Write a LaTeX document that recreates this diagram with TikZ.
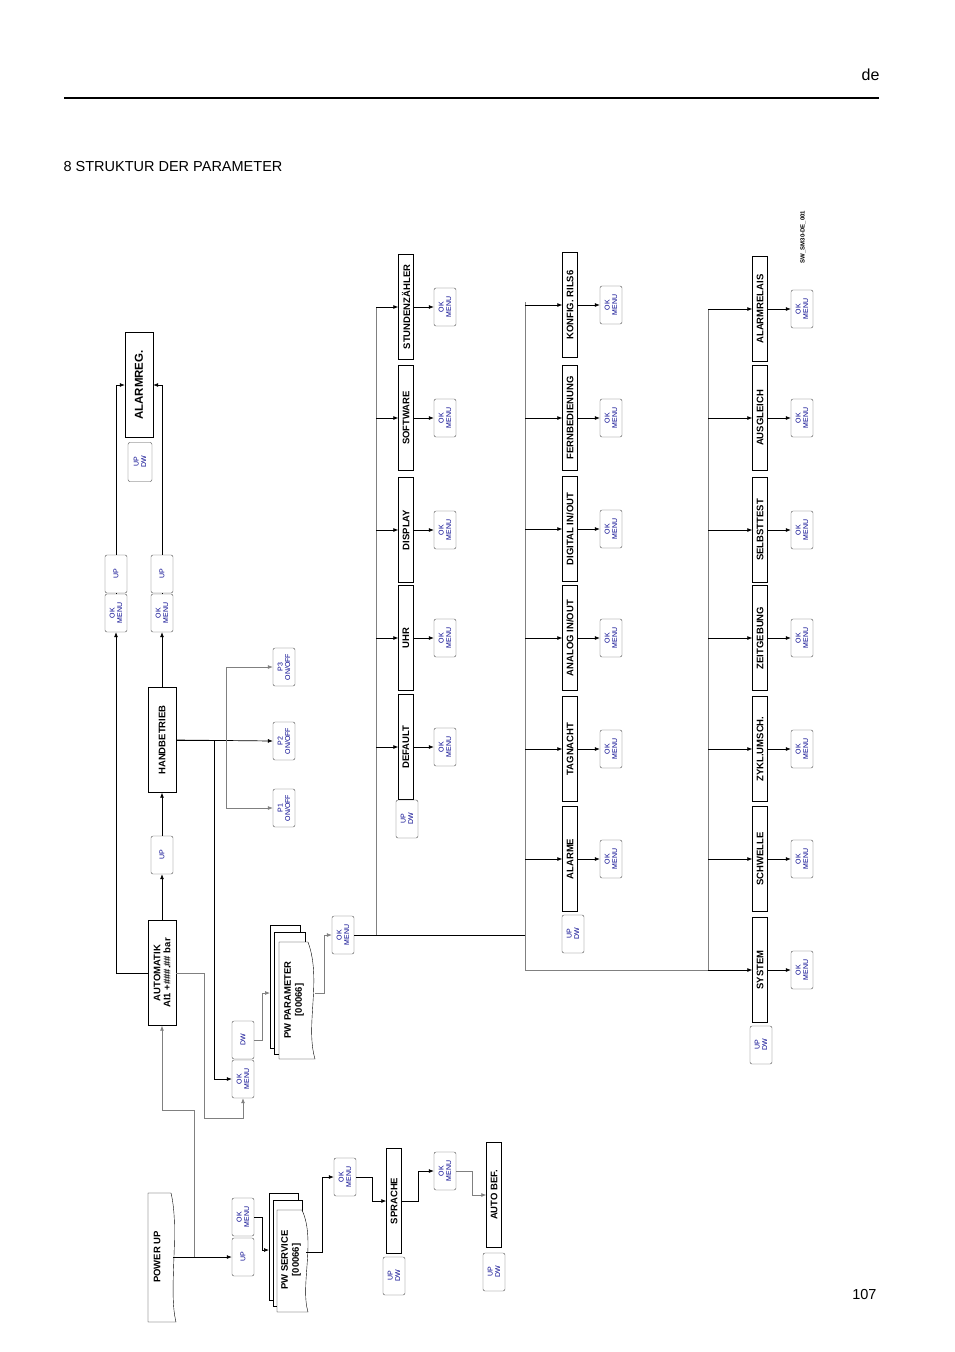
\documentclass[tikz,border=0pt]{standalone}
\usepackage{fontspec}
\setmainfont{Liberation Sans}
\usetikzlibrary{positioning, arrows.meta}

\tikzset{
  menubox/.style={draw, rotate=90, minimum width=105, minimum height=15, inner sep=1pt,
    font=\fontsize{9.5}{10}\selectfont\bfseries},
  bigbox/.style={menubox, minimum height=28, align=center},
  keybox/.style={draw=gray!60!black, rounded corners=2pt, rotate=90, minimum width=38,
    minimum height=22, inner sep=1pt, align=center, text=blue!55!black,
    font=\fontsize{7}{7.5}\selectfont},
  doc/.style={draw, fill=white},
  wire/.style={line width=0.7pt},
  gwire/.style={line width=0.7pt, gray},
}

\begin{document}
\begin{tikzpicture}[x=1pt, y=-1pt, >={Latex[length=5pt,width=4pt]}]
        \useasboundingbox (0,0) rectangle (954,1352);
        % page header
        \node[anchor=east, font=\fontsize{16}{16}\selectfont] (lang) at (883,75) {de};
        \draw[line width=2.5pt] (64,98) -- (879,98);
        \node[anchor=west, font=\fontsize{14.5}{14.5}\selectfont] (title) at (60,167) {8 STRUKTUR DER PARAMETER};
        \node[anchor=east, font=\fontsize{14.5}{14.5}\selectfont] (page) at (880,1294) {107};
        \node[rotate=90, font=\fontsize{6}{6}\selectfont\bfseries] (ref) at (803,237) {SW\_SM30-DE\_001};

        % top left block
        \node[bigbox, font=\fontsize{11.5}{12}\selectfont\bfseries] (alarmreg) at (139,385) {ALARMREG.};
        \node[keybox, minimum width=39, minimum height=24] (ar-k) at (140,462) {UP\\DW};
        \node[bigbox] (auto) at (162,973) {AUTOMATIK\\AI1 +\#\#\#.\#\# bar};
        \node[bigbox] (hand) at (162,740) {HANDBETRIEB};
        \node[keybox] (auto-up) at (162,855) {UP};
        \node[keybox] (a-ok) at (116,613) {OK\\MENU};
        \node[keybox] (a-up) at (116,574) {UP};
        \node[keybox] (h-ok) at (162,613) {OK\\MENU};
        \node[keybox] (h-up) at (162,574) {UP};
        \node[keybox] (p3) at (284,667) {P3\\ON/OFF};
        \node[keybox] (p2) at (284,741) {P2\\ON/OFF};
        \node[keybox] (p1) at (284,808) {P1\\ON/OFF};
        \node[keybox] (pa-ok) at (243,1079) {OK\\MENU};
        \node[keybox] (pa-dw) at (243,1040) {DW};

        \draw[wire,->] (auto.north) -| (a-ok.west);
        \draw[wire] (a-ok) -- (a-up);
        \draw[wire,->] (a-up.east) |- (alarmreg.north);
        \draw[wire,->] (auto.east) -- (auto-up.west);
        \draw[wire,->] (auto-up.east) -- (hand.west);
        \draw[wire,->] (hand.east) -- (h-ok.west);
        \draw[wire] (h-ok) -- (h-up);
        \draw[wire,->] (h-up.east) |- (alarmreg.south);
        \draw[wire,->] (hand.south) -- (p2.north);
        \coordinate (pb) at (226,741);
        \draw[gwire,->] (pb) |- (p3.north);
        \draw[gwire,->] (pb) |- (p1.north);
        \draw[wire,->] (hand.south) -| (214,1079) -- (pa-ok.north);
        \draw[gwire,->] (auto.south) -| (204,1118) -| (pa-ok.west);

        % PW PARAMETER stack
        \draw[doc] (270,925) rectangle (300,1048);
        \draw[doc] (274,932) rectangle (305,1054);
        \draw[doc] (279,942) -- (308,942) .. controls (322,980) and (305,1025) .. (315,1059) -- (279,1059) -- cycle;
        \node[rotate=90, align=center, font=\fontsize{9.5}{11}\selectfont\bfseries] (pwpar) at (294,1000) {PW PARAMETER\\{[00066]}};
        \coordinate (pwpar-in) at (270,993);
        \coordinate (pwpar-out) at (315,993);
        \node[keybox] (par-ok) at (343,935) {OK\\MENU};
        \draw[gwire,->] (pa-dw.south) -| (262,993) -- (pwpar-in);
        \draw[gwire,->] (pwpar-out) -| (324,935) -- (par-ok.north);

        % column trunks
        \coordinate (t1) at (376,935);
        \coordinate (t2) at (525,935);
        \coordinate (t3) at (708,970);
        \draw[wire] (par-ok.south) -- (t2);
        \draw[gwire] (t1) -- (376,307);
        \draw[gwire] (525,302) -- (525,970) -- (t3) -- (708,309);

        % column 1
        \foreach \nm/\txt/\y in {sz/STUNDENZÄHLER/307, sw/SOFTWARE/418, dp/DISPLAY/530, uhr/UHR/638, dft/DEFAULT/747}{
          \node[menubox] (\nm) at (406,\y) {\txt};
          \node[keybox] (\nm-k) at (445,\y) {OK\\MENU};
          \draw[wire,->] (t1 |- \nm) -- (\nm.north);
          \draw[wire,->] (\nm.south) -- (\nm-k.north);
        }
        \node[keybox] (c1-k) at (407,819) {UP\\DW};

        % column 2
        \foreach \nm/\txt/\y in {kr/{KONFIG. RILS6}/305, fb/FERNBEDIENUNG/418, dio/{DIGITAL IN/OUT}/529, aio/{ANALOG IN/OUT}/638, tn/TAGNACHT/749, alm/ALARME/859}{
          \node[menubox] (\nm) at (570,\y) {\txt};
          \node[keybox] (\nm-k) at (611,\y) {OK\\MENU};
          \draw[wire,->] (t2 |- \nm) -- (\nm.north);
          \draw[wire,->] (\nm.south) -- (\nm-k.north);
        }
        \node[keybox] (c2-k) at (573,934) {UP\\DW};

        % column 3
        \foreach \nm/\txt/\y in {arl/ALARMRELAIS/309, ag/AUSGLEICH/418, st/SELBSTTEST/530, zg/ZEITGEBUNG/638, zu/ZYKL.UMSCH./749, sch/SCHWELLE/859, sys/SYSTEM/970}{
          \node[menubox] (\nm) at (760,\y) {\txt};
          \node[keybox] (\nm-k) at (802,\y) {OK\\MENU};
          \draw[wire,->] (t3 |- \nm) -- (\nm.north);
          \draw[wire,->] (\nm.south) -- (\nm-k.north);
        }
        \node[keybox] (c3-k) at (761,1045) {UP\\DW};

        % power up branch
        \draw[doc] (148,1193) -- (171,1193) .. controls (180,1230) and (168,1290) .. (176,1322) -- (148,1322) -- cycle;
        \node[rotate=90, font=\fontsize{9.5}{11}\selectfont\bfseries] (pu) at (157,1257) {POWER UP};
        \coordinate (pu-out) at (173,1257);
        \node[keybox] (pu-up) at (243,1257) {UP};
        \node[keybox] (pu-ok) at (243,1217) {OK\\MENU};
        \draw[wire,->] (pu-out) -- (pu-up.north);
        \draw[gwire,->] (194,1257) |- (162,1110) -- (auto.west);

        % PW SERVICE stack
        \draw[doc] (269,1193) rectangle (298,1300);
        \draw[doc] (273,1200) rectangle (302,1306);
        \draw[doc] (277,1210) -- (302,1210) .. controls (316,1240) and (300,1285) .. (308,1312) -- (277,1312) -- cycle;
        \node[rotate=90, align=center, font=\fontsize{9.5}{11}\selectfont\bfseries] (pwsrv) at (291,1260) {PW SERVICE\\{[00066]}};
        \coordinate (pwsrv-in) at (269,1250);
        \coordinate (pwsrv-out) at (306,1252);
        \node[keybox] (srv-ok) at (345,1177) {OK\\MENU};
        \node[menubox] (lang-b) at (394,1201) {SPRACHE};
        \node[keybox] (lang-k) at (394,1276) {UP\\DW};
        \node[keybox] (lang-ok) at (445,1171) {OK\\MENU};
        \node[menubox] (autobef) at (494,1195) {AUTO BEF.};
        \node[keybox] (ab-k) at (494,1272) {UP\\DW};

        \draw[wire,->] (pu-ok.south) -| (262,1250) -- (pwsrv-in);
        \draw[wire,->] (pwsrv-out) -| (322,1177) -- (srv-ok.north);
        \draw[wire,->] (srv-ok.south) -| (372,1201) -- (lang-b.north);
        \draw[wire,->] (lang-b.south) -| (418,1171) -- (lang-ok.north);
        \draw[gwire,->] (lang-ok.south) -| (472,1195) -- (autobef.north);
\end{tikzpicture}
\end{document}
